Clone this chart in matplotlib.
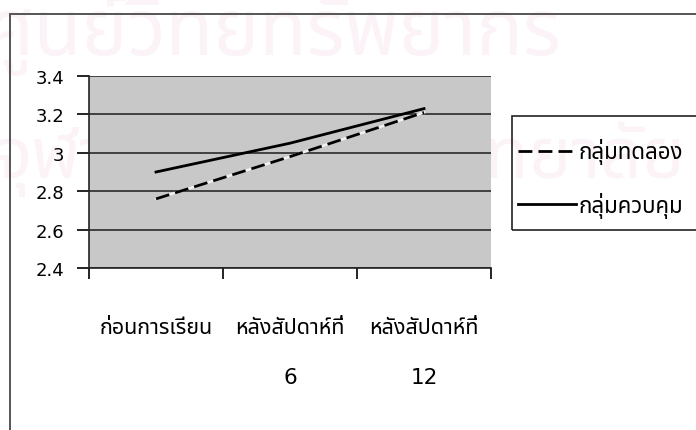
import matplotlib
matplotlib.use('Agg')
import matplotlib.pyplot as plt
from matplotlib.patches import Rectangle

thai = ['DejaVu Sans', 'Noto Sans Thai', 'IBM Plex Sans Thai', 'Kanit']
plt.rcParams['font.family'] = thai
plt.rcParams['hatch.linewidth'] = 0.4
plt.rcParams['hatch.color'] = '#b0b0b0'

categories = ['ก่อนการเรียน', 'หลังสัปดาห์ที่\n6', 'หลังสัปดาห์ที่\n12']
experimental = [2.76, 2.98, 3.21]
control = [2.90, 3.05, 3.23]
series_names = ['กลุ่มทดลอง', 'กลุ่มควบคุม']
y_ticks = [2.4, 2.6, 2.8, 3.0, 3.2, 3.4]
y_tick_labels = ['2.4', '2.6', '2.8', '3', '3.2', '3.4']

W, H = 696, 431
fig = plt.figure(figsize=(W / 100, H / 100), dpi=100)
fig.patch.set_facecolor('white')

# faint watermark, kept behind the plot area
wm = '#fbf3f7'
fig.text(-0.02, 1 - 55 / H, 'ศูนย์วิทยทรัพยากร', fontsize=56, color=wm,
         fontweight='bold', ha='left', va='baseline', zorder=-1)
fig.text(-0.01, 1 - 178 / H, 'จุฬาลงกรณ์มหาวิทยาลัย', fontsize=52, color=wm,
         fontweight='bold', ha='left', va='baseline', zorder=-1)

# chart border
fig.patches.append(Rectangle((10 / W, -0.1), 1.2, (H - 15) / H + 0.1,
                             transform=fig.transFigure, fill=False,
                             edgecolor='#555555', linewidth=1.4, zorder=1))

ax = fig.add_axes([89 / W, 1 - 269 / H, 402 / W, 192 / H])
ax.set_facecolor('#c8c8c8')
ax.add_patch(Rectangle((0, 0), 1, 1, transform=ax.transAxes, facecolor='none',
                       hatch='++++', edgecolor='none', zorder=0))

x = range(len(categories))
ax.plot(x, experimental, color='#f2f2f2', linewidth=1.8, zorder=3)
ax.plot(x, experimental, color='black', linewidth=2.0, dashes=(5, 2.2),
        label=series_names[0], zorder=4)
ax.plot(x, control, color='black', linewidth=2.0, label=series_names[1], zorder=4)

ax.set_xlim(-0.5, 2.5)
ax.set_ylim(2.4, 3.4)
ax.set_yticks(y_ticks)
ax.set_yticklabels(y_tick_labels, fontsize=13)
ax.yaxis.grid(True, color='#2a2a2a', linewidth=1.2)
ax.set_axisbelow(True)

ax.set_xticks([-0.5, 0.5, 1.5, 2.5])
ax.set_xticklabels([])
ax.set_xticks(list(x), minor=True)
ax.set_xticklabels(categories, minor=True, fontsize=15.5, linespacing=2.9, va='top')
ax.tick_params(axis='x', which='minor', length=0, pad=35)
ax.tick_params(axis='x', which='major', length=8, width=1.2, direction='out')
ax.tick_params(axis='y', length=9, width=1.2, pad=9, direction='out')

for side in ['top', 'right']:
    ax.spines[side].set_visible(False)
for side in ['left', 'bottom']:
    ax.spines[side].set_color('#222222')
    ax.spines[side].set_linewidth(1.2)

# legend entries without frame, box drawn separately
leg = ax.legend(loc='center left', bbox_to_anchor=(518 / W, 1 - 179 / H),
                bbox_transform=fig.transFigure, frameon=False,
                prop={'size': 16}, handlelength=2.6, handletextpad=0.1,
                labelspacing=1.22, borderpad=0, borderaxespad=0)
fig.patches.append(Rectangle((512 / W, 1 - 231 / H), 0.4, 114 / H,
                             transform=fig.transFigure, fill=False,
                             edgecolor='#222222', linewidth=1.2, zorder=2))

fig.savefig('out.png', dpi=100)
